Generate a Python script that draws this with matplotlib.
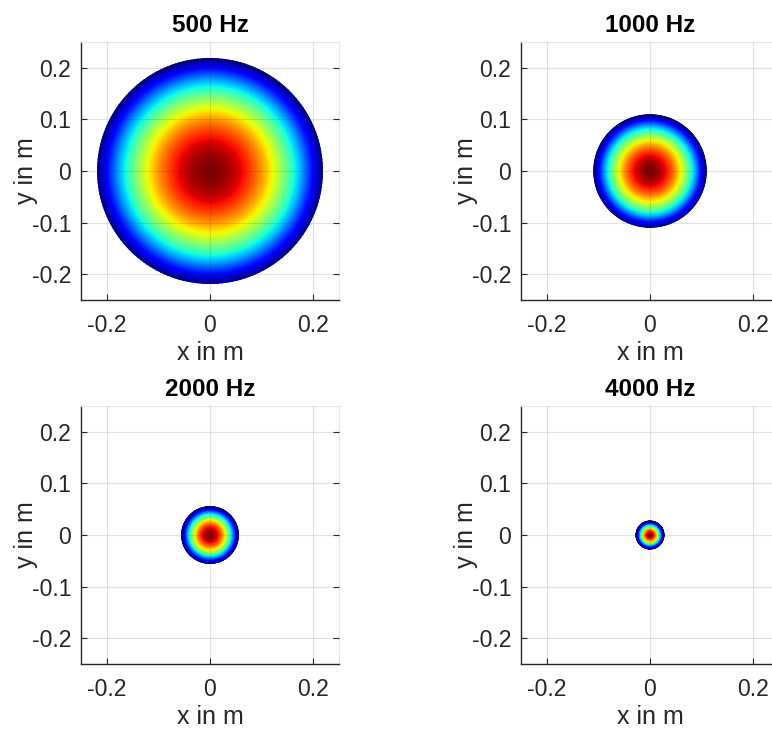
import numpy as np
import matplotlib
matplotlib.use("Agg")
import matplotlib.pyplot as plt

plt.rcParams['font.family'] = ['Liberation Sans', 'DejaVu Sans']
plt.rcParams['axes.unicode_minus'] = False

# Data
freqs = [500, 1000, 2000, 4000]
titles = ["500 Hz", "1000 Hz", "2000 Hz", "4000 Hz"]
radii = [0.218, 0.109, 0.055, 0.027]   # disc radius in m
yticks = [-0.2, -0.1, 0, 0.1, 0.2]
xticks = [-0.2, 0, 0.2]
xticklabels = ["-0.2", "0", "0.2"]
yticklabels = ["-0.2", "-0.1", "0", "0.1", "0.2"]

W, H = 772, 729
fig = plt.figure(figsize=(W / 100, H / 100), dpi=100)

# axes boxes in pixels: (left, top)
boxes = [(81, 42), (521, 42), (81, 406), (521, 406)]
size = 258

axcol = '#262626'
for (lx, ty), f, t, R in zip(boxes, freqs, titles, radii):
    ax = fig.add_axes([lx / W, (H - ty - size) / H, size / W, size / H])
    th = np.linspace(0, 2 * np.pi, 181)
    rr = np.linspace(0, R, 80)
    TH, RR = np.meshgrid(th, rr)
    X = RR * np.cos(TH)
    Y = RR * np.sin(TH)
    Z = np.cos(np.pi / 2 * RR / R)
    ax.pcolormesh(X, Y, Z, cmap='jet', shading='gouraud', vmin=0, vmax=1,
                  rasterized=True, zorder=1)
    ax.set_xlim(-0.25, 0.25)
    ax.set_ylim(-0.25, 0.25)
    ax.set_xticks(xticks)
    ax.set_xticklabels(xticklabels)
    ax.set_yticks(yticks)
    ax.set_yticklabels(yticklabels)
    ax.grid(True, color='#262626', alpha=0.13, linewidth=0.8, zorder=3)
    ax.set_axisbelow(False)
    ax.tick_params(direction='in', length=4, width=0.8, colors=axcol,
                   labelsize=16.5, top=False, right=True)
    ax.tick_params(axis='x', pad=10)
    ax.tick_params(axis='y', pad=7)
    for s in ['left', 'bottom']:
        ax.spines[s].set_color(axcol)
        ax.spines[s].set_linewidth(1.0)
    for s in ['top', 'right']:
        ax.spines[s].set_color('#e6e6e6')
        ax.spines[s].set_linewidth(0.8)
    ax.set_xlabel("x in m", fontsize=18, color=axcol)
    ax.set_ylabel("y in m", fontsize=18, color=axcol)
    ax.xaxis.set_label_coords(0.5, -0.160)
    ax.yaxis.set_label_coords(-0.165, 0.5)
    ax.set_title(t, fontsize=17.5, fontweight='bold', pad=7)

fig.savefig("out.png", dpi=100)
